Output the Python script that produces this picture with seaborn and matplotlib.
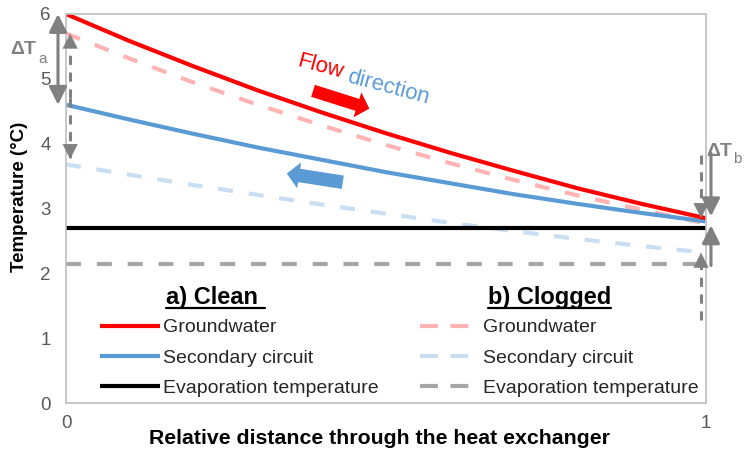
import matplotlib
matplotlib.use("Agg")
import matplotlib.pyplot as plt
import seaborn as sns
import pandas as pd
from matplotlib.lines import Line2D

# ---------------- data ----------------
distance = [0.0, 0.1, 0.2, 0.3, 0.4, 0.5, 0.6, 0.7, 0.8, 0.9, 1.0]
gw_clean = [6.00, 5.58, 5.19, 4.82, 4.48, 4.16, 3.86, 3.58, 3.31, 3.07, 2.85]
sc_clean = [4.60, 4.37, 4.15, 3.94, 3.75, 3.56, 3.39, 3.22, 3.07, 2.93, 2.80]
evap_clean = [2.70, 2.70, 2.70, 2.70, 2.70, 2.70, 2.70, 2.70, 2.70, 2.70, 2.70]
gw_clogged = [5.70, 5.31, 4.94, 4.60, 4.28, 3.98, 3.70, 3.44, 3.20, 2.98, 2.77]
sc_clogged = [3.68, 3.52, 3.36, 3.21, 3.06, 2.92, 2.78, 2.65, 2.53, 2.42, 2.32]
evap_clogged = [2.14, 2.14, 2.14, 2.14, 2.14, 2.14, 2.14, 2.14, 2.14, 2.14, 2.14]

series_labels = ["Groundwater", "Secondary circuit", "Evaporation temperature"]
group_titles = ["a) Clean ", "b) Clogged"]
y_ticks = [0, 1, 2, 3, 4, 5, 6]
x_ticks = [0, 1]

# ---------------- style ----------------
sns.set_theme(style="white")
plt.rcParams["font.family"] = ["Liberation Sans", "DejaVu Sans"]

RED = "#FF0000"
PINK = "#FFB3B3"
BLUE = "#5B9BD5"
LBLUE = "#C9DEF2"
BLACK = "#000000"
GRAY_D = "#A6A6A6"
ARROW = "#808080"
TICK = "#595959"
LW = 3.0
DASH = (0, (3.6, 3.8))
LEG_DASH = (0, (4.3, 3.0))

df = pd.DataFrame({
    "distance": distance,
    "gw_clean": gw_clean, "sc_clean": sc_clean, "evap_clean": evap_clean,
    "gw_clogged": gw_clogged, "sc_clogged": sc_clogged, "evap_clogged": evap_clogged,
})

fig = plt.figure(figsize=(7.47, 4.55), dpi=100)
ax = fig.add_axes([66 / 747, 52 / 455, 640 / 747, 389 / 455])

dashed_specs = [("evap_clogged", GRAY_D), ("sc_clogged", LBLUE), ("gw_clogged", PINK)]
for col, c in dashed_specs:
    sns.lineplot(data=df, x="distance", y=col, ax=ax, color=c, lw=LW,
                 linestyle=DASH, dash_capstyle="butt", legend=False)
solid_specs = [("evap_clean", BLACK), ("sc_clean", BLUE), ("gw_clean", RED)]
for col, c in solid_specs:
    sns.lineplot(data=df, x="distance", y=col, ax=ax, color=c, lw=LW,
                 solid_capstyle="butt", legend=False)

ax.set_xlim(0, 1)
ax.set_ylim(0, 6)
ax.set_xticks(x_ticks)
ax.set_yticks(y_ticks)
ax.set_xticklabels([str(v) for v in x_ticks])
ax.set_yticklabels([str(v) for v in y_ticks])
ax.tick_params(axis="both", length=0, colors=TICK, labelsize=13.5)
ax.tick_params(axis="y", pad=11)
ax.tick_params(axis="x", pad=9)
for s in ax.spines.values():
    s.set_visible(True)
    s.set_color("#BFBFBF")
    s.set_linewidth(1.2)

ax.set_xlabel("Relative distance through the heat exchanger", fontsize=15.3,
              fontweight="bold", color="black", va="center")
ax.xaxis.set_label_coords(0.49, -0.09)
ax.set_ylabel("Temperature (°C)", fontsize=13.5, fontweight="bold",
              color="black", va="center")
ax.yaxis.set_label_coords(-0.072, 0.53)

# ---------------- legend ----------------
handles = [
    Line2D([], [], color=RED, lw=LW, solid_capstyle="butt"),
    Line2D([], [], color=BLUE, lw=LW, solid_capstyle="butt"),
    Line2D([], [], color=BLACK, lw=LW, solid_capstyle="butt"),
    Line2D([], [], color=PINK, lw=LW, linestyle=LEG_DASH),
    Line2D([], [], color=LBLUE, lw=LW, linestyle=LEG_DASH),
    Line2D([], [], color=GRAY_D, lw=LW, linestyle=LEG_DASH),
]
leg = ax.legend(handles, series_labels + series_labels, ncol=2, frameon=False,
                loc="upper left", bbox_to_anchor=(0.053, 0.2166),
                borderpad=0, borderaxespad=0, fontsize=14,
                handlelength=3.1, handletextpad=0.15, columnspacing=2.1,
                labelspacing=0.66)

title_pos = [(0.234, 1.62), (0.755, 1.62)]
title_texts = []
for (tx, ty), t in zip(title_pos, group_titles):
    title_texts.append(ax.text(tx, ty, t, fontsize=17, fontweight="bold",
                               ha="center", va="center", color="black"))

# ---------------- delta T arrows ----------------
def double_arrow(x, y_top, y_bot):
    ax.annotate("", xy=(x, y_top), xytext=(x, y_bot), annotation_clip=False,
                arrowprops=dict(arrowstyle="<|-|>,head_length=0.9,head_width=0.45",
                                lw=2.2, color=ARROW, shrinkA=0, shrinkB=0,
                                mutation_scale=12))

def single_arrow(x, y_tail, y_tip, dashed=False):
    if dashed:
        ax.plot([x, x], [y_tail, y_tip], color=ARROW, lw=2.2,
                linestyle=(0, (3, 2.5)), clip_on=False, solid_capstyle="butt")
        d = 0.18 if y_tip > y_tail else -0.18
        ax.annotate("", xy=(x, y_tip), xytext=(x, y_tip - d), annotation_clip=False,
                    arrowprops=dict(arrowstyle="-|>,head_length=0.9,head_width=0.45",
                                    lw=0.1, color=ARROW, shrinkA=0, shrinkB=0,
                                    mutation_scale=12))
    else:
        ax.annotate("", xy=(x, y_tip), xytext=(x, y_tail), annotation_clip=False,
                    arrowprops=dict(arrowstyle="-|>,head_length=0.9,head_width=0.45",
                                    lw=2.2, color=ARROW, shrinkA=0, shrinkB=0,
                                    mutation_scale=12))

# Delta T a
double_arrow(-0.0125, 6.0, 4.6)
single_arrow(0.0065, 4.70, 5.70, dashed=True)
single_arrow(0.0065, 4.70, 3.76, dashed=True)
ax.text(-0.067, 5.46, "ΔT", fontsize=14, fontweight="bold", color=ARROW,
        ha="center", va="center", clip_on=False)
ax.text(-0.037, 5.31, "a", fontsize=11, color=ARROW, ha="center", va="center",
        clip_on=False)

# Delta T b
single_arrow(1.0078, 3.85, 2.88)
single_arrow(1.0078, 2.12, 2.74)
single_arrow(0.9922, 3.82, 2.85, dashed=True)
single_arrow(0.9922, 1.28, 2.32, dashed=True)
ax.text(1.020, 3.88, "ΔT", fontsize=14, fontweight="bold", color=ARROW,
        ha="center", va="center", clip_on=False)
ax.text(1.049, 3.77, "b", fontsize=11, color=ARROW, ha="center", va="center",
        clip_on=False)

# ---------------- flow direction ----------------
ax.text(0.397, 5.18, "Flow", fontsize=16, color=RED, rotation=-15,
        ha="center", va="center", rotation_mode="anchor")
ax.text(0.503, 4.86, "direction", fontsize=16, color=BLUE, rotation=-15,
        ha="center", va="center", rotation_mode="anchor")
ax.annotate("", xy=(0.474, 4.54), xytext=(0.386, 4.815),
            arrowprops=dict(arrowstyle="simple,head_length=0.6,head_width=1.25,tail_width=0.6",
                            mutation_scale=15, color=RED, shrinkA=0, shrinkB=0, lw=0))
ax.annotate("", xy=(0.345, 3.54), xytext=(0.4325, 3.405),
            arrowprops=dict(arrowstyle="simple,head_length=0.6,head_width=1.25,tail_width=0.65",
                            mutation_scale=15, color=BLUE, shrinkA=0, shrinkB=0, lw=0))

# ---------------- underlines for group titles ----------------
fig.canvas.draw()
renderer = fig.canvas.get_renderer()
inv = fig.transFigure.inverted()
for t in title_texts:
    bb = t.get_window_extent(renderer)
    (x0, y0), (x1, _) = inv.transform([(bb.x0, bb.y0 + 1), (bb.x1, bb.y0)])
    fig.add_artist(Line2D([x0, x1], [y0, y0], transform=fig.transFigure,
                          color="black", lw=1.6))

fig.savefig("out.png", dpi=100)
